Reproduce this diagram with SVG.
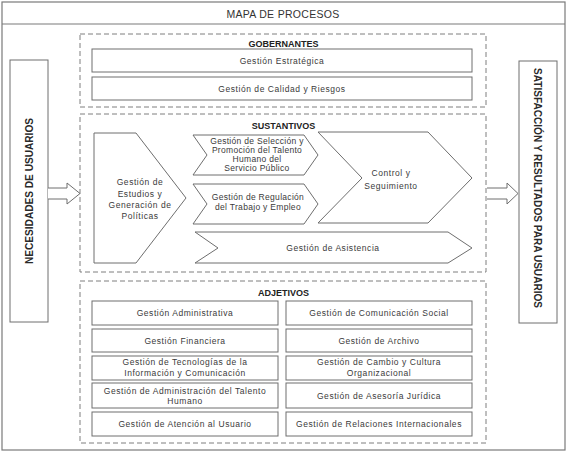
<svg xmlns="http://www.w3.org/2000/svg" width="567" height="453" viewBox="0 0 567 453">
<style>
.frame{fill:#fff;stroke:#7a7a7a;stroke-width:1.2}
.group{fill:none;stroke:#7f7f7f;stroke-width:1;stroke-dasharray:5 3}
.box{fill:#fff;stroke:#6e6e6e;stroke-width:1}
.t{font-family:"Liberation Sans",Arial,sans-serif;font-size:8.5px;fill:#3a3a3a;text-anchor:middle;letter-spacing:0.55px}
.c{letter-spacing:0.3px}
.h{font-family:"Liberation Sans",Arial,sans-serif;font-size:9px;font-weight:bold;fill:#222;text-anchor:middle}
.title{font-family:"Liberation Sans",Arial,sans-serif;font-size:10.5px;fill:#333;text-anchor:middle;letter-spacing:0.3px}
.v{font-family:"Liberation Sans",Arial,sans-serif;font-size:10.5px;font-weight:bold;fill:#2a2a2a;text-anchor:middle}
.arrow{fill:#fff;stroke:#6e6e6e;stroke-width:1}
</style>
<rect width="567" height="453" fill="#fff"/>
<g id="frame">
<rect class="frame" x="2" y="2" width="563" height="448"/>
<line x1="2" y1="24" x2="565" y2="24" stroke="#7a7a7a" stroke-width="1.2"/>
<text class="title" x="283" y="17.5">MAPA DE PROCESOS</text>
</g>
<g id="necesidades">
<rect class="box" x="10" y="60" width="38" height="262"/>
<text class="v" transform="translate(29,191) rotate(-90)" y="4" textLength="146" lengthAdjust="spacingAndGlyphs">NECESIDADES DE USUARIOS</text>
</g>
<g id="satisfaccion">
<rect class="box" x="519" y="61" width="38" height="262"/>
<text class="v" transform="translate(538,188) rotate(90)" y="4" textLength="240" lengthAdjust="spacingAndGlyphs">SATISFACCIÓN Y RESULTADOS PARA USUARIOS</text>
</g>
<g id="connectors">
<path class="arrow" d="M48,188 H67 V183 L80,193.5 L67,204 V199 H48"/>
<path class="arrow" d="M487,188 H507 V183 L518,193.5 L507,204 V199 H487"/>
</g>
<g id="gobernantes">
<rect class="group" x="80" y="34" width="406" height="73"/>
<text class="h" x="283.5" y="46.5">GOBERNANTES</text>
</g>
<g id="gestion-estrategica">
<rect class="box" x="92" y="49" width="380" height="23"/>
<text class="t" x="282" y="63.5">Gestión Estratégica</text>
</g>
<g id="gestion-calidad">
<rect class="box" x="92" y="77" width="380" height="23"/>
<text class="t" x="282" y="91.5">Gestión de Calidad y Riesgos</text>
</g>
<g id="sustantivos">
<rect class="group" x="80" y="114" width="406" height="158"/>
<text class="h" x="283.5" y="129">SUSTANTIVOS</text>
</g>
<g id="estudios">
<path class="box" d="M94,133 H136 L186,198 L136,263 H94 Z"/>
<text class="t" x="140" y="185">Gestión de</text>
<text class="t" x="140" y="197">Estudios y</text>
<text class="t" x="140" y="208">Generación de</text>
<text class="t" x="140" y="219">Políticas</text>
</g>
<g id="seleccion">
<path class="box" d="M193,135 H304 L318,155 L304,175 H193 L207,155 Z"/>
<text class="t c" x="257" y="143.5">Gestión de Selección y</text>
<text class="t c" x="257" y="152.5">Promoción del Talento</text>
<text class="t c" x="257" y="161.5">Humano del</text>
<text class="t c" x="257" y="170.5">Servicio Público</text>
</g>
<g id="regulacion">
<path class="box" d="M193,184 H304 L318,204 L304,224 H193 L207,204 Z"/>
<text class="t c" x="258" y="200">Gestión de Regulación</text>
<text class="t c" x="258" y="209.5">del Trabajo y Empleo</text>
</g>
<g id="control">
<path class="box" d="M318,132 H428 L472,178 L428,223 H318 L362,178 Z"/>
<text class="t" x="391" y="176">Control y</text>
<text class="t" x="391" y="189">Seguimiento</text>
</g>
<g id="asistencia">
<path class="box" d="M195,232 H448 L472,248 L448,263 H195 L218,248 Z"/>
<text class="t" x="333" y="251">Gestión de Asistencia</text>
</g>
<g id="adjetivos">
<rect class="group" x="80" y="281" width="406" height="162"/>
<text class="h" x="283.5" y="295.5">ADJETIVOS</text>
</g>
<g id="administrativa">
<rect class="box" x="92" y="301" width="186" height="24"/>
<text class="t" x="185" y="316">Gestión Administrativa</text>
</g>
<g id="comunicacion-social">
<rect class="box" x="286" y="301" width="186" height="24"/>
<text class="t" x="379" y="316">Gestión de Comunicación Social</text>
</g>
<g id="financiera">
<rect class="box" x="92" y="329" width="186" height="23"/>
<text class="t" x="185" y="343.5">Gestión Financiera</text>
</g>
<g id="archivo">
<rect class="box" x="286" y="329" width="186" height="23"/>
<text class="t" x="379" y="343.5">Gestión de Archivo</text>
</g>
<g id="tecnologias">
<rect class="box" x="92" y="356" width="186" height="24"/>
<text class="t" x="185" y="365">Gestión de Tecnologías de la</text>
<text class="t" x="185" y="376">Información y Comunicación</text>
</g>
<g id="cambio-cultura">
<rect class="box" x="286" y="356" width="186" height="24"/>
<text class="t" x="379" y="365">Gestión de Cambio y Cultura</text>
<text class="t" x="379" y="376">Organizacional</text>
</g>
<g id="talento-humano">
<rect class="box" x="92" y="383" width="186" height="25"/>
<text class="t" x="185" y="393.5">Gestión de Administración del Talento</text>
<text class="t" x="185" y="404">Humano</text>
</g>
<g id="asesoria-juridica">
<rect class="box" x="286" y="383" width="186" height="25"/>
<text class="t" x="379" y="398.5">Gestión de Asesoría Jurídica</text>
</g>
<g id="atencion-usuario">
<rect class="box" x="92" y="412" width="186" height="24"/>
<text class="t" x="185" y="427">Gestión de Atención al Usuario</text>
</g>
<g id="relaciones-internacionales">
<rect class="box" x="286" y="412" width="186" height="24"/>
<text class="t" x="379" y="427">Gestión de Relaciones Internacionales</text>
</g>
</svg>
